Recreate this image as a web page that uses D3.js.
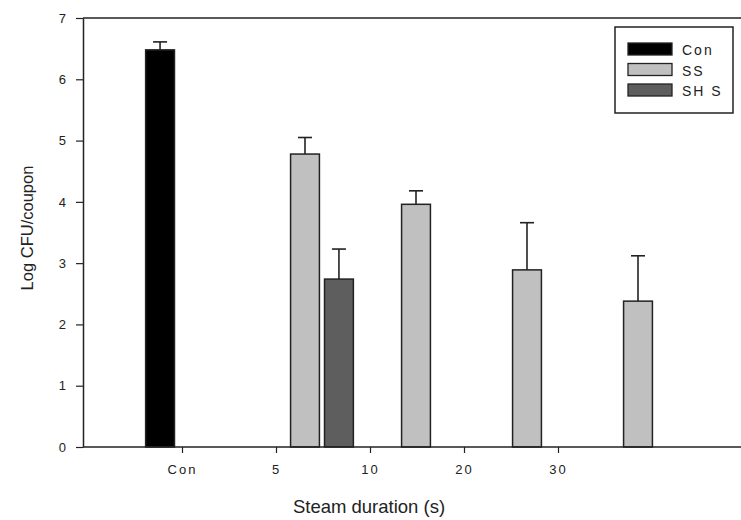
<!DOCTYPE html>
<html>
<head>
<meta charset="utf-8">
<script src="https://cdn.jsdelivr.net/npm/d3@7"></script>
<style>
  body { margin: 0; background: #fff; }
  text { font-family: "Liberation Sans", Arial, sans-serif; fill: #222; }
</style>
</head>
<body>
<div class="vis"></div>
<script>
const categories = ['Con', '5', '10', '20', '30'];
const series = ['Con', 'SS', 'SHS'];
const seriesLabels = ['Con', 'SS', 'SH S'];
const conValues = [6.48, null, null, null, null];
const conErrors = [0.13, null, null, null, null];
const ssValues = [null, 4.78, 3.96, 2.89, 2.38];
const ssErrors = [null, 0.27, 0.22, 0.77, 0.74];
const shsValues = [null, 2.74, null, null, null];
const shsErrors = [null, 0.49, null, null, null];
const yTicks = [0, 1, 2, 3, 4, 5, 6, 7];

createBarChart();

function createBarChart() {
    const width = 741, height = 520;
    const margin = { top: 18, left: 83, right: -2, bottom: 73 };
    const plotBottom = height - margin.bottom;
    const plotRight = width - margin.right;

    const svg = d3.select('.vis')
        .append('svg')
        .attr('width', width)
        .attr('height', height);

    const color = d3.scaleOrdinal()
        .domain(series)
        .range(['#000000', '#c0c0c0', '#5e5e5e']);

    const y = d3.scaleLinear()
        .domain([0, 7])
        .range([plotBottom, margin.top]);

    // bar groups (SigmaPlot places bars on its own grid)
    const x0 = d3.scaleBand()
        .domain(categories)
        .range([138.5, 693.5]);

    const x1 = d3.scaleBand()
        .domain(series)
        .range([0, x0.bandwidth()])
        .paddingInner(0.15)
        .paddingOuter(0.21);

    // tick label positions
    const xTick = d3.scalePoint()
        .domain(categories)
        .range([182, 558]);

    const rows = [];
    const valueSets = [conValues, ssValues, shsValues];
    const errorSets = [conErrors, ssErrors, shsErrors];
    series.forEach((s, si) => {
        categories.forEach((c, ci) => {
            if (valueSets[si][ci] != null) {
                rows.push({ series: s, category: c, value: valueSets[si][ci], err: errorSets[si][ci] });
            }
        });
    });

    // frame lines
    svg.append('line')
        .attr('x1', margin.left).attr('x2', plotRight)
        .attr('y1', margin.top).attr('y2', margin.top)
        .attr('stroke', '#222').attr('stroke-width', 1.5);

    // error bars (upper only)
    const eb = svg.append('g')
        .attr('stroke', '#222')
        .attr('stroke-width', 1.6);
    eb.selectAll('line.v')
        .data(rows)
        .join('line')
        .attr('class', 'v')
        .attr('x1', d => x0(d.category) + x1(d.series) + x1.bandwidth() / 2)
        .attr('x2', d => x0(d.category) + x1(d.series) + x1.bandwidth() / 2)
        .attr('y1', d => y(d.value))
        .attr('y2', d => y(d.value + d.err));
    eb.selectAll('line.cap')
        .data(rows)
        .join('line')
        .attr('class', 'cap')
        .attr('x1', d => x0(d.category) + x1(d.series) + x1.bandwidth() / 2 - 7)
        .attr('x2', d => x0(d.category) + x1(d.series) + x1.bandwidth() / 2 + 7)
        .attr('y1', d => y(d.value + d.err))
        .attr('y2', d => y(d.value + d.err));

    // bars
    svg.append('g')
        .selectAll('rect')
        .data(rows)
        .join('rect')
        .attr('x', d => x0(d.category) + x1(d.series))
        .attr('width', x1.bandwidth())
        .attr('y', d => y(d.value))
        .attr('height', d => y(0) - y(d.value))
        .attr('fill', d => color(d.series))
        .attr('stroke', '#222')
        .attr('stroke-width', 1.5);

    // y axis
    const yAxis = svg.append('g')
        .attr('transform', 'translate(' + margin.left + ',0)')
        .call(d3.axisLeft(y).tickValues(yTicks).tickFormat(d3.format('d'))
            .tickSize(7).tickSizeOuter(0).tickPadding(10));
    yAxis.select('.domain').attr('stroke', '#222').attr('stroke-width', 1.5);
    yAxis.selectAll('.tick line').attr('stroke', '#222').attr('stroke-width', 1.2);
    yAxis.selectAll('.tick text')
        .style('font-size', '13px')
        .style('font-family', '"Liberation Sans", Arial, sans-serif')
        .attr('fill', '#222');

    // x axis
    const xAxis = svg.append('g')
        .attr('transform', 'translate(0,' + plotBottom + ')')
        .call(d3.axisBottom(xTick).tickSize(6).tickSizeOuter(0).tickPadding(12));
    xAxis.select('.domain').remove();
    xAxis.selectAll('.tick line').attr('stroke', '#222').attr('stroke-width', 1.2);
    xAxis.selectAll('.tick text')
        .style('font-size', '13px')
        .style('letter-spacing', '2px')
        .style('font-family', '"Liberation Sans", Arial, sans-serif')
        .attr('fill', '#222');
    svg.append('line')
        .attr('x1', margin.left).attr('x2', plotRight)
        .attr('y1', plotBottom).attr('y2', plotBottom)
        .attr('stroke', '#222').attr('stroke-width', 1.5);

    // axis titles
    svg.append('text')
        .attr('x', 369)
        .attr('y', 513)
        .attr('text-anchor', 'middle')
        .style('font-size', '18.5px')
        .text('Steam duration (s)');

    svg.append('text')
        .attr('transform', 'translate(33,' + 228 + ') rotate(-90)')
        .attr('text-anchor', 'middle')
        .style('font-size', '16.5px')
        .text('Log CFU/coupon');

    // legend
    const legend = svg.append('g').attr('transform', 'translate(615,27)');
    legend.append('rect')
        .attr('width', 118).attr('height', 86)
        .attr('fill', '#fff')
        .attr('stroke', '#222').attr('stroke-width', 1.5);
    const item = legend.selectAll('g.item')
        .data(series)
        .join('g')
        .attr('class', 'item')
        .attr('transform', (d, i) => 'translate(13,' + (16 + i * 20.5) + ')');
    item.append('rect')
        .attr('width', 44).attr('height', 12)
        .attr('fill', d => color(d))
        .attr('stroke', '#222').attr('stroke-width', 1.3);
    item.append('text')
        .attr('x', 54)
        .attr('y', 12)
        .style('font-size', '14px')
        .style('letter-spacing', '2px')
        .text((d, i) => seriesLabels[i]);
}
</script>
</body>
</html>
